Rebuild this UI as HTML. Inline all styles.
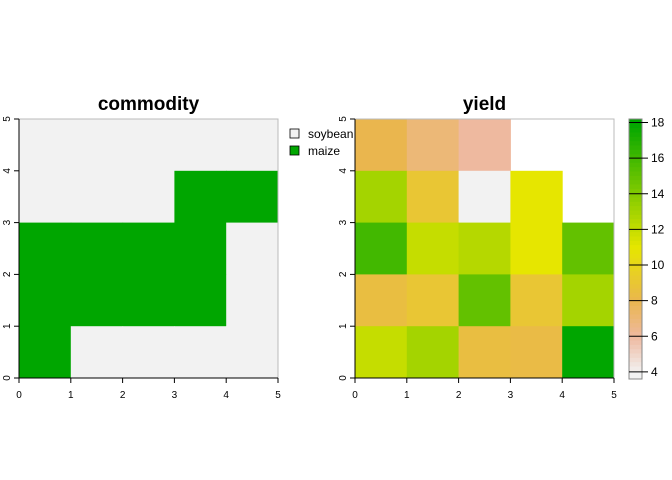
<!DOCTYPE html>
<html><head><meta charset="utf-8"><style>
body{margin:0;background:#fff;}
svg{display:block;font-family:"Liberation Sans",Arial,sans-serif;}
</style></head><body>
<svg id="c" width="672" height="480"></svg>
<script>
const xTicks=[0,1,2,3,4,5];
const yTicks=[0,1,2,3,4,5];
// commodity grid rows from top (y 4-5) to bottom (y 0-1); 1=maize 0=soybean
const commodity=[[0,0,0,0,0],[0,0,0,1,1],[1,1,1,1,0],[1,1,1,1,0],[1,0,0,0,0]];
const commodityNames=["soybean","maize"];
const commodityColors=["#F2F2F2","#00A600"];
// yield grid rows from top; null = NA
const yieldVals=[[8,7,6,null,null],[13,9,4,11,null],[16,12,12.5,11,15],[8.5,9,15,9,13],[12,13,8.5,8.3,18]];
const cbTicks=[4,6,8,10,12,14,16,18];
const cbMin=3.6, cbMax=18.2;

const svg=document.getElementById('c');
const NS='http://www.w3.org/2000/svg';
function el(t,a,p){const e=document.createElementNS(NS,t);for(const k in a)e.setAttribute(k,a[k]);(p||svg).appendChild(e);return e;}
function lerp(a,b,t){return Math.round(a+(b-a)*t);}
function hex(h){return[parseInt(h.slice(1,3),16),parseInt(h.slice(3,5),16),parseInt(h.slice(5,7),16)];}
const stops=[[4,"#F2F2F2"],[6,"#EEB99F"],[8,"#EAB64E"],[11,"#E6E600"],[18,"#00A600"]];
function col(v){
  if(v<=stops[0][0])return stops[0][1];
  for(let i=1;i<stops.length;i++){if(v<=stops[i][0]){const t=(v-stops[i-1][0])/(stops[i][0]-stops[i-1][0]);const a=hex(stops[i-1][1]),b=hex(stops[i][1]);return `rgb(${lerp(a[0],b[0],t)},${lerp(a[1],b[1],t)},${lerp(a[2],b[2],t)})`;}}
  return stops[stops.length-1][1];
}
const plotTop=119,plotBot=378;
function sy(v){return plotBot-(v/5)*(plotBot-plotTop);}
function panel(x0,x1,title,grid,fill,name){
  const sx=v=>x0+(v/5)*(x1-x0);
  const g=el('g',{});
  
  
  grid.forEach((row,r)=>row.forEach((v,c)=>{
    const f=fill(v);if(!f)return;
    const rc=el('rect',{x:sx(c),y:sy(5-r),width:sx(c+1)-sx(c)+0.5,height:sy(4-r)-sy(5-r)+0.5,fill:f},g);
    
    
  }));
  const b=el('rect',{x:x0,y:plotTop,width:x1-x0,height:plotBot-plotTop,fill:'none',stroke:'#bbb','stroke-width':1},g);
  
  
  xTicks.forEach(t=>{el('line',{x1:sx(t),x2:sx(t),y1:plotBot,y2:plotBot+5,stroke:'#000'},g);
    const tx=el('text',{x:sx(t),y:plotBot+20,'font-size':10,'text-anchor':'middle'},g);tx.textContent=t;
    });
  yTicks.forEach(t=>{el('line',{x1:x0,x2:x0-5,y1:sy(t),y2:sy(t),stroke:'#000'},g);
    const tx=el('text',{x:x0-9,y:sy(t),'font-size':10,'text-anchor':'middle',transform:`rotate(-90 ${x0-9} ${sy(t)})`},g);tx.textContent=t;
    });
  el('line',{x1:x0,x2:x1,y1:plotBot,y2:plotBot,stroke:'#000'},g);
  el('line',{x1:x0,x2:x0,y1:plotTop,y2:plotBot,stroke:'#000'},g);
  const tt=el('text',{x:(x0+x1)/2,y:110,'font-size':19,'font-weight':'bold','text-anchor':'middle'},g);tt.textContent=title;
  
}
panel(19,278,'commodity',commodity,v=>commodityColors[v],'commodity');
panel(355,614,'yield',yieldVals,v=>v==null?null:col(v),'yield');
commodityNames.forEach((n,i)=>{
  const y=134+i*17;
  const r=el('rect',{x:290,y:y-5,width:9,height:9,fill:commodityColors[i],stroke:'#000','stroke-width':0.8});
  
  const t=el('text',{x:308,y:y+4,'font-size':12});t.textContent=n;
  
});
const cbx=629,cbw=13,cbTop=119,cbBot=379;
const cy=v=>cbBot-(v-cbMin)/(cbMax-cbMin)*(cbBot-cbTop);
for(let i=0;i<60;i++){const v0=cbMin+(cbMax-cbMin)*i/60,v1=cbMin+(cbMax-cbMin)*(i+1)/60;
  el('rect',{x:cbx,y:cy(v1),width:cbw,height:cy(v0)-cy(v1)+0.5,fill:col((v0+v1)/2)});}
const cbf=el('rect',{x:cbx,y:cbTop,width:cbw,height:cbBot-cbTop,fill:'none',stroke:'#888'});

cbTicks.forEach(t=>{el('line',{x1:cbx,x2:cbx+19,y1:cy(t),y2:cy(t),stroke:'#000'});
  const tx=el('text',{x:cbx+22,y:cy(t)+4,'font-size':12});tx.textContent=t;
  });
</script>
</body></html>
